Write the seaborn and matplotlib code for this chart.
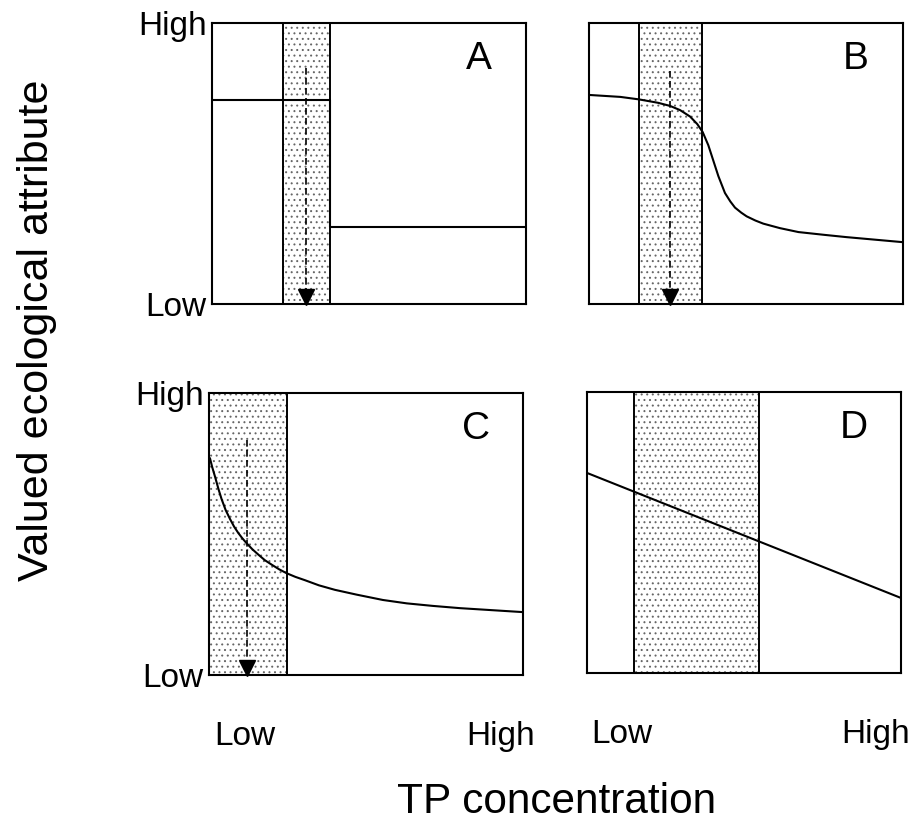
import matplotlib
matplotlib.use("Agg")
import matplotlib.pyplot as plt
import seaborn as sns
import pandas as pd
from matplotlib.patches import Rectangle

sns.set_theme(style="white")
plt.rcParams['font.family'] = ['Liberation Sans', 'DejaVu Sans']
plt.rcParams['hatch.linewidth'] = 0.7
plt.rcParams['hatch.color'] = '#666666'

# ---------------- data ----------------
panel_labels = ["A", "B", "C", "D"]
y_tick_labels = ["Low", "High"]
x_tick_labels = ["Low", "High"]

# Panel A: threshold step
a_x = [0.0, 0.376, 0.376, 1.0]
a_y = [0.726, 0.726, 0.274, 0.274]
# Panel B: sigmoid-like decline
b_x = [0.0, 0.10, 0.16, 0.22, 0.258, 0.290, 0.322, 0.345, 0.362, 0.380, 0.396,
       0.412, 0.433, 0.450, 0.465, 0.485, 0.502, 0.530, 0.555, 0.608, 0.667,
       0.75, 0.82, 0.90, 1.0]
b_y = [0.744, 0.737, 0.728, 0.716, 0.705, 0.690, 0.667, 0.640, 0.612, 0.565,
       0.510, 0.455, 0.395, 0.365, 0.343, 0.325, 0.312, 0.297, 0.286, 0.270,
       0.256, 0.246, 0.238, 0.230, 0.220]
# Panel C: rapid early decline
c_x = [0.003, 0.010, 0.019, 0.030, 0.040, 0.053, 0.067, 0.080, 0.093, 0.106,
       0.120, 0.138, 0.157, 0.178, 0.200, 0.223, 0.247, 0.275, 0.306, 0.350,
       0.401, 0.470, 0.554, 0.630, 0.713, 0.800, 0.900, 1.0]
c_y = [0.769, 0.738, 0.704, 0.660, 0.624, 0.585, 0.553, 0.526, 0.504, 0.485,
       0.467, 0.446, 0.427, 0.407, 0.391, 0.375, 0.361, 0.348, 0.336, 0.318,
       0.302, 0.285, 0.266, 0.254, 0.245, 0.237, 0.230, 0.223]
# Panel D: linear decline
d_x = [0.0, 1.0]
d_y = [0.712, 0.267]

curves_x = [a_x, b_x, c_x, d_x]
curves_y = [a_y, b_y, c_y, d_y]

band_lo = [0.226, 0.160, 0.0, 0.150]
band_hi = [0.376, 0.360, 0.248, 0.548]
arrow_x = [0.300, 0.258, 0.120, None]
arrow_top = [0.840, 0.830, 0.833, None]

# ---------------- layout ----------------
fig = plt.figure(figsize=(9.15, 8.22), dpi=100)
W, H = 915, 822
boxes = [(212, 23, 526, 304), (589, 23, 903, 304),
         (209, 393, 523, 675), (587, 392, 901, 673)]
axes = []
for (l, t, r, b) in boxes:
    ax = fig.add_axes([l / W, 1 - b / H, (r - l) / W, (b - t) / H])
    axes.append(ax)

for i, ax in enumerate(axes):
    ax.set_xlim(0, 1)
    ax.set_ylim(0, 1)
    # stippled band
    rect = Rectangle((band_lo[i], 0), band_hi[i] - band_lo[i], 1,
                     facecolor='white', edgecolor='#666666', hatch='...',
                     linewidth=0, zorder=1)
    ax.add_patch(rect)
    for xb in (band_lo[i], band_hi[i]):
        ax.axvline(xb, color='black', lw=1.4, zorder=2)
    df = pd.DataFrame({"x": curves_x[i], "y": curves_y[i]})
    sns.lineplot(data=df, x="x", y="y", ax=ax, color='black', lw=1.5,
                 sort=False, estimator=None, zorder=3)
    if arrow_x[i] is not None:
        ax.plot([arrow_x[i], arrow_x[i]], [arrow_top[i], 0.04], color='black',
                lw=1.2, dashes=(4, 2), zorder=4)
        ax.plot([arrow_x[i]], [0.024], marker='v', color='black', markersize=11,
                zorder=5, clip_on=False)
    ax.text(0.85, 0.872, panel_labels[i], transform=ax.transAxes, ha='center',
            va='center', fontsize=28, color='black')
    for s in ax.spines.values():
        s.set_visible(True)
        s.set_color('black')
        s.set_linewidth(1.5)
        s.set_zorder(6)
    ax.set_xlabel("")
    ax.set_ylabel("")
    ax.tick_params(length=0, colors='black')
    if i in (0, 2):
        ax.set_yticks([0, 1])
        ax.set_yticklabels(y_tick_labels, fontsize=24)
        ax.tick_params(axis='y', pad=4)
    else:
        ax.set_yticks([])
    if i in (2, 3):
        ax.set_xticks([0.115, 0.93] if i == 2 else [0.11, 0.92])
        ax.set_xticklabels(x_tick_labels, fontsize=24)
        ax.tick_params(axis='x', pad=33)
    else:
        ax.set_xticks([])

fig.text(37 / W, 1 - 330 / H, "Valued ecological attribute", rotation=90,
         ha='center', va='center', fontsize=31, color='black')
fig.text(557 / W, 1 - 813 / H, "TP concentration", ha='center',
         va='baseline', fontsize=30.5, color='black')

fig.savefig("out.png", dpi=100, facecolor='white')
